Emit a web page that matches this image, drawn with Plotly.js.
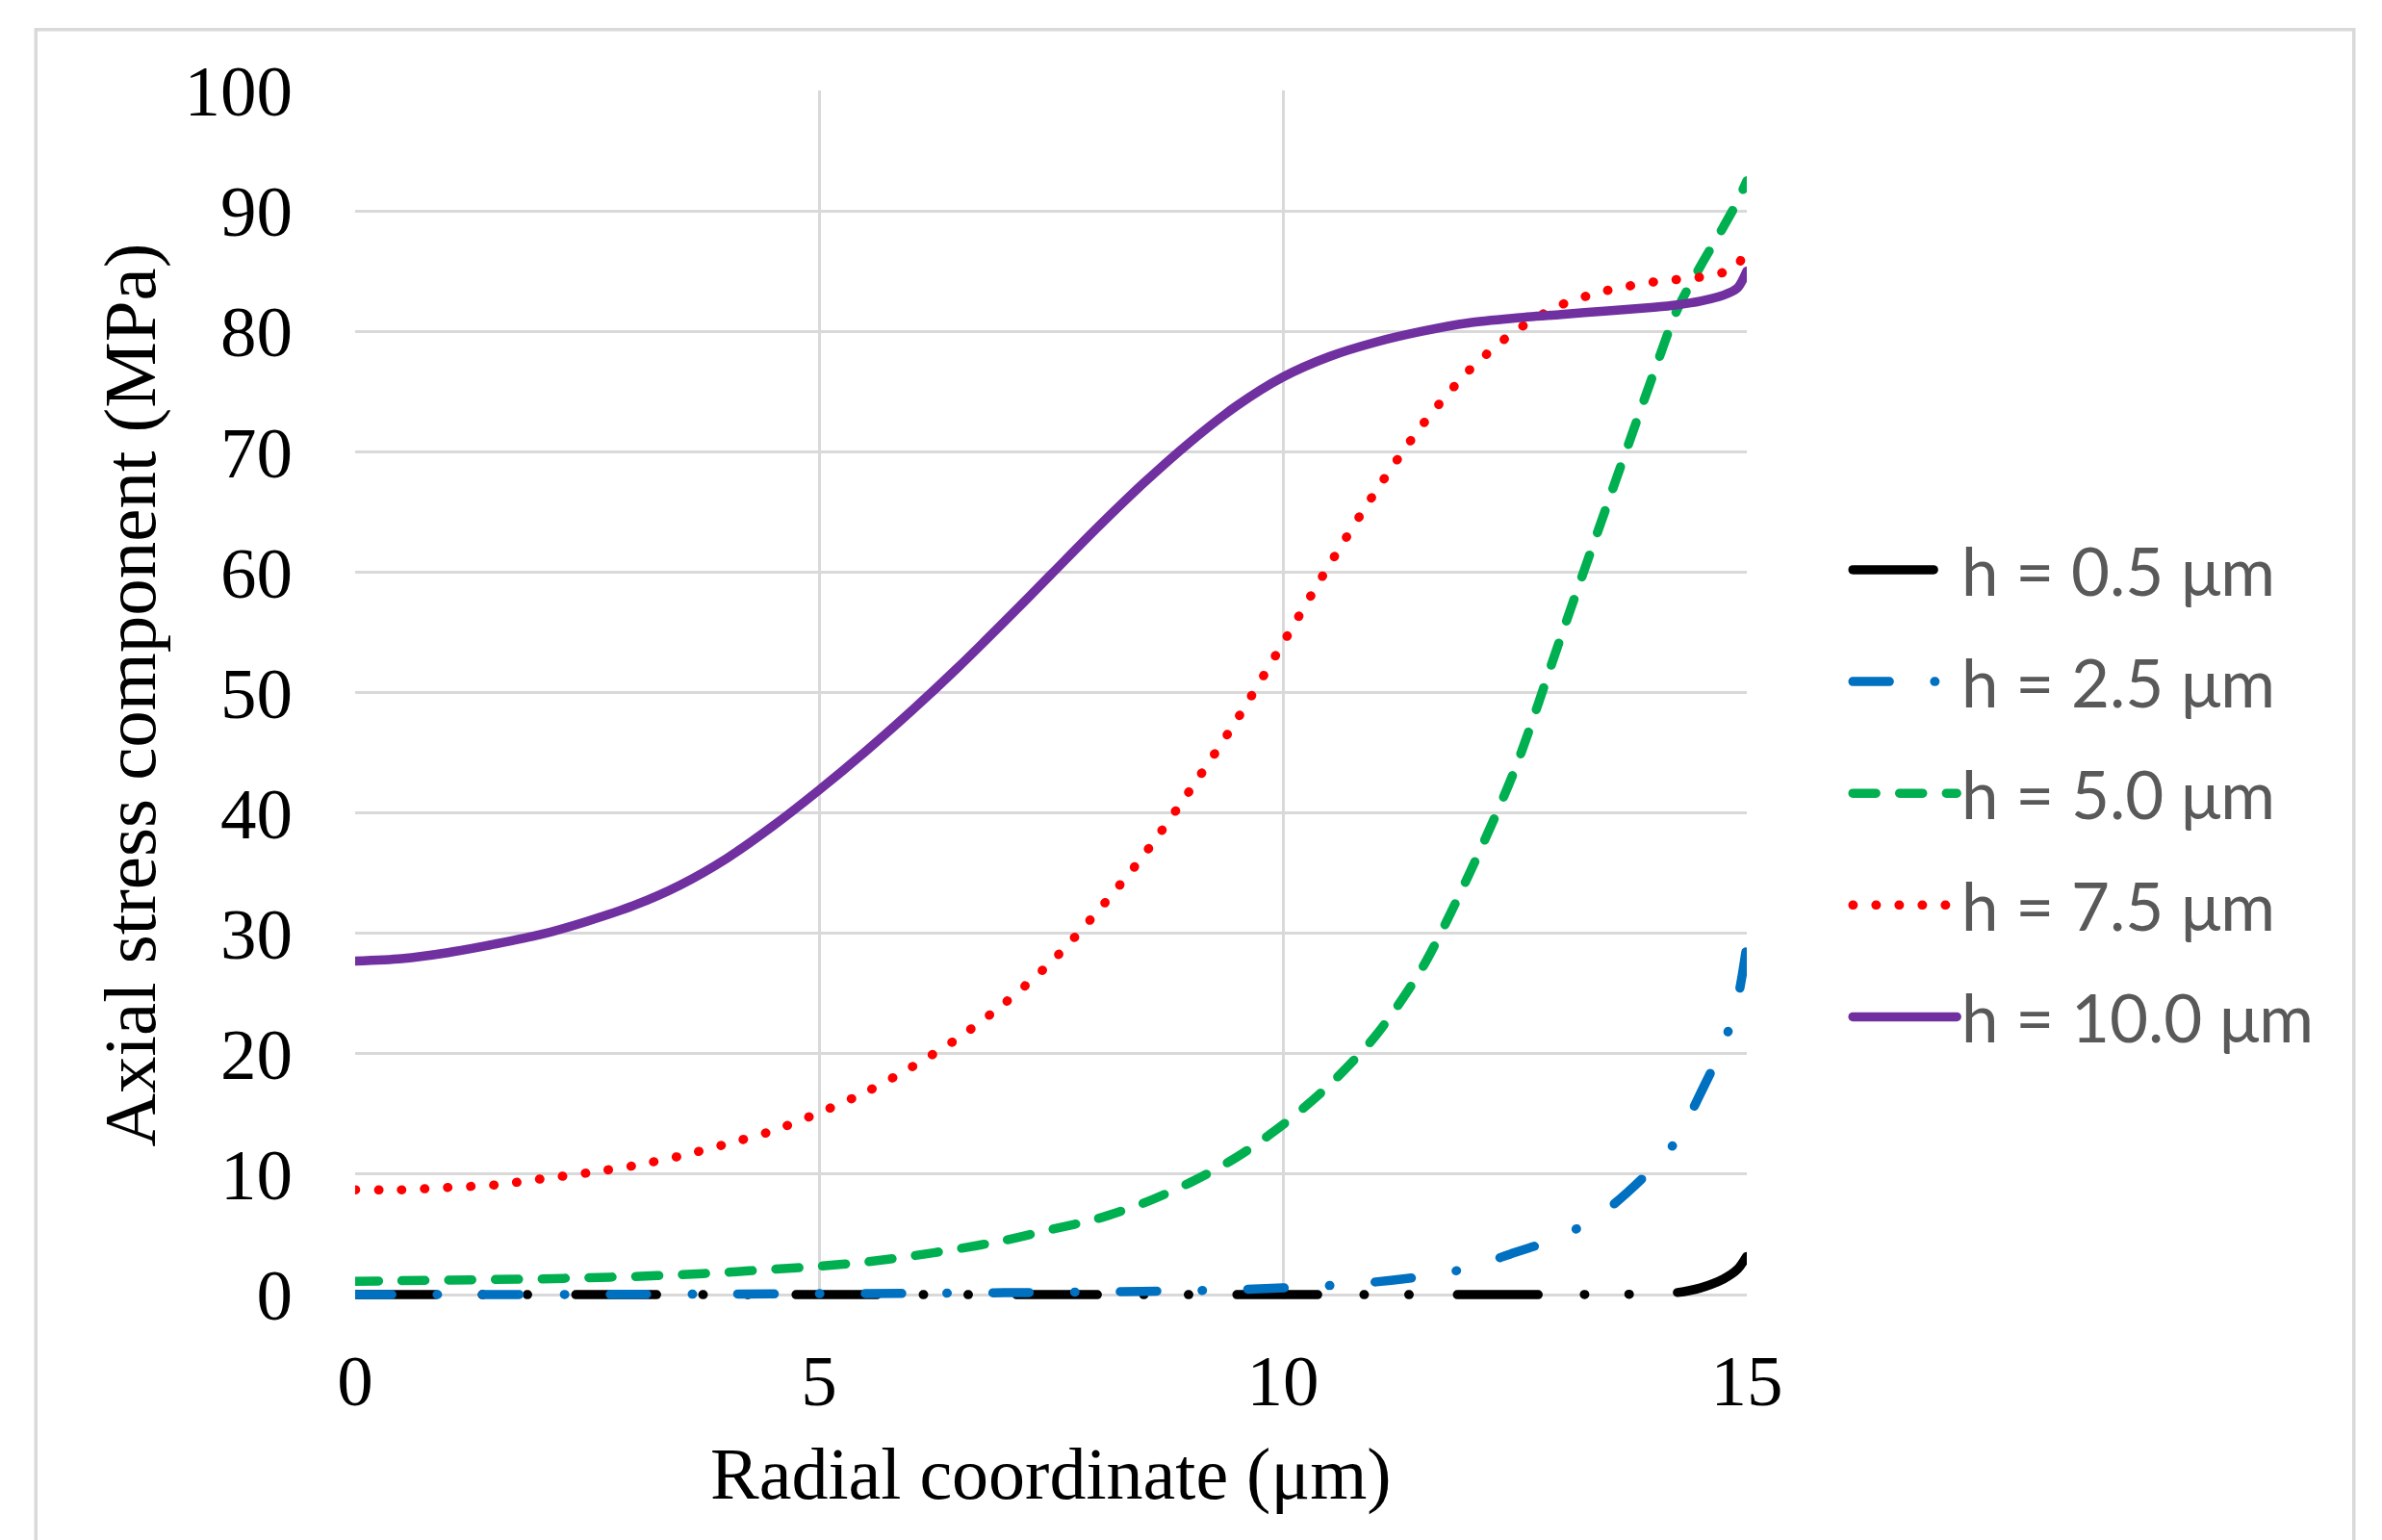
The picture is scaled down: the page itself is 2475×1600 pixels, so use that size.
<!DOCTYPE html>
<html>
<head>
<meta charset="utf-8">
<script src="https://cdn.plot.ly/plotly-3.0.1.min.js"></script>
<style>
html, body { margin: 0; padding: 0; background: #ffffff; }
#chart { width: 2475px; height: 1600px; }
#chart path.js-line { stroke-linecap: round; stroke-linejoin: round; }
</style>
</head>
<body>
<div id="chart"></div>
<script>
// ---------------- data ----------------
const seriesNames = ["h = 0.5 \u03bcm", "h = 2.5 \u03bcm", "h = 5.0 \u03bcm", "h = 7.5 \u03bcm", "h = 10.0 \u03bcm"];

// h = 0.5 um
const x_h05 = [0, 13, 13.5, 14, 14.25, 14.5, 14.75, 14.9, 15];
const y_h05 = [0, 0, 0.01, 0.06, 0.17, 0.55, 1.3, 2.1, 3.2];

// h = 2.5 um
const x_h25 = [0, 1, 2, 3, 4, 5, 6, 7, 8, 9, 9.5, 10, 10.5, 11, 11.5, 12, 12.5, 13, 13.5, 14, 14.25, 14.5, 14.75, 14.9, 15];
const y_h25 = [0, 0, 0, 0.02, 0.04, 0.07, 0.1, 0.15, 0.22, 0.32, 0.42, 0.55, 0.75, 1.05, 1.5, 2.2, 3.5, 4.8, 7.1, 10.6, 12.9, 16.7, 20.8, 24.5, 29.0];

// common radial positions for the three upper curves
const x_main = [0, 0.5, 1, 1.5, 2, 2.5, 3, 3.5, 4, 4.5, 5, 5.5, 6, 6.5, 7, 7.5, 8, 8.5, 9, 9.5, 10, 10.5, 11, 11.5, 12, 12.5, 13, 13.5, 14, 14.25, 14.5, 14.75, 14.9, 15];

// h = 5.0 um
const y_h50 = [1.1, 1.15, 1.2, 1.25, 1.3, 1.4, 1.5, 1.65, 1.85, 2.1, 2.35, 2.7, 3.2, 3.8, 4.5, 5.4, 6.3, 7.6, 9.3, 11.4, 14.1, 17.4, 21.5, 27.1, 34.8, 43.6, 54.7, 65.7, 76.6, 81.8, 85.4, 88.7, 90.8, 92.5];

// h = 7.5 um
const y_h75 = [8.7, 8.7, 8.9, 9.1, 9.6, 10.1, 10.7, 11.5, 12.5, 13.6, 15.1, 16.8, 18.9, 21.3, 24.2, 27.6, 31.8, 36.5, 41.9, 47.7, 54.1, 60.6, 66.7, 72.2, 76.7, 80.0, 82.2, 83.4, 84.1, 84.3, 84.5, 84.9, 85.5, 87.0];

// h = 10.0 um
const y_h100 = [27.7, 27.9, 28.4, 29.1, 29.9, 31.0, 32.3, 34.0, 36.2, 38.9, 41.9, 45.1, 48.5, 52.1, 55.9, 59.8, 63.7, 67.4, 70.8, 73.8, 76.2, 77.9, 79.1, 80.0, 80.7, 81.1, 81.4, 81.7, 82.0, 82.2, 82.5, 83.0, 83.6, 85.0];

const xTickVals = [0, 5, 10, 15];
const yTickVals = [0, 10, 20, 30, 40, 50, 60, 70, 80, 90, 100];

const xTitle = "Radial coordinate (\u03bcm)";
const yTitle = "Axial stress component (MPa)";

// ---------------- styles ----------------
const colors = ["#000000", "#0070C0", "#00B050", "#FF0000", "#7030A0"];
const dashes = [
  "84px,48px,0.5px,46px,0.5px,50px",
  "38px,47px,0.5px,47px",
  "24px,24.6px",
  "0.5px,23.5px",
  "solid"
];
const LW = 9.5;

const xs = [x_h05, x_h25, x_main, x_main, x_main];
const ys = [y_h05, y_h25, y_h50, y_h75, y_h100];

const traces = ys.map((yv, i) => ({
  type: "scatter",
  mode: "lines",
  x: xs[i],
  y: yv,
  name: seriesNames[i],
  legendgroup: "g" + i,
  line: { color: colors[i], width: LW, dash: dashes[i], shape: "spline", smoothing: 0.8 },
  hoverinfo: "skip"
}));

const serif = "Liberation Serif, Times New Roman, serif";

const layout = {
  width: 2475,
  height: 1600,
  paper_bgcolor: "#ffffff",
  plot_bgcolor: "#ffffff",
  margin: { l: 368.5, r: 659.5, t: 94.3, b: 250.2, pad: 0 },
  showlegend: true,
  legend: {
    x: 1.0727, y: 0.6444, xanchor: "left", yanchor: "top",
    font: { family: "Lato, Noto Sans, sans-serif", size: 69, color: "#595959" },
    itemwidth: 108,
    traceorder: "grouped",
    tracegroupgap: 23.4,
    bgcolor: "rgba(0,0,0,0)",
    borderwidth: 0
  },
  xaxis: {
    range: [0, 15],
    tickvals: xTickVals,
    ticktext: xTickVals.map(String),
    showgrid: true, gridcolor: "#D9D9D9", gridwidth: 3,
    zeroline: false, showline: false, ticks: "",
    ticklabelstandoff: 34,
    tickfont: { family: serif, size: 75, color: "#000000" },
    fixedrange: true
  },
  yaxis: {
    range: [-0.4, 100],
    tickvals: yTickVals,
    ticktext: yTickVals.map(String),
    showgrid: true, gridcolor: "#D9D9D9", gridwidth: 3,
    zeroline: false, showline: false, ticks: "",
    ticklabelstandoff: 64,
    tickfont: { family: serif, size: 75, color: "#000000" },
    fixedrange: true
  },
  annotations: [
    { text: xTitle, xref: "paper", yref: "paper", x: 0.5, y: 0, xanchor: "center", yanchor: "middle",
      yshift: -181, showarrow: false, font: { family: serif, size: 76, color: "#000000" } },
    { text: yTitle, xref: "paper", yref: "paper", x: 0, y: 0.5, xanchor: "center", yanchor: "middle",
      xshift: -234.5, textangle: -90, showarrow: false, font: { family: serif, size: 77, color: "#000000" } }
  ],
  shapes: [
    { type: "rect", xref: "paper", yref: "paper", x0: -0.2294, x1: 1.4362, y0: -0.3, y1: 1.0504,
      line: { color: "#D9D9D9", width: 3.5 }, fillcolor: "rgba(0,0,0,0)", layer: "below" }
  ]
};

Plotly.newPlot("chart", traces, layout, { staticPlot: true, displayModeBar: false });
</script>
</body>
</html>
